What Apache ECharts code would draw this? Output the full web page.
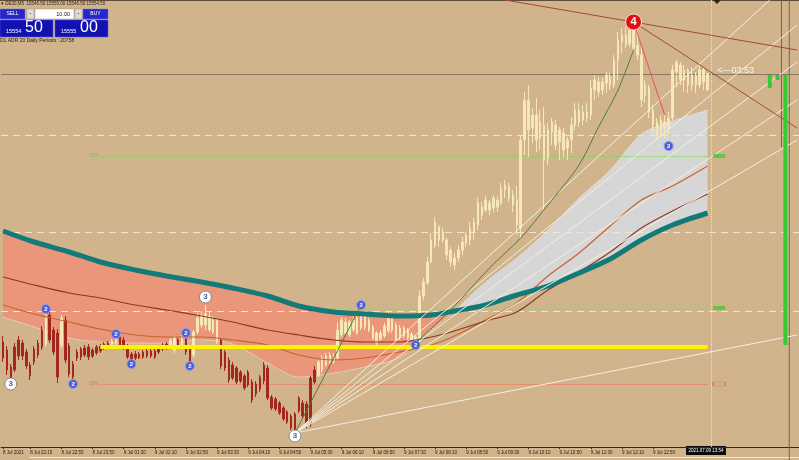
<!DOCTYPE html>
<html>
<head>
<meta charset="utf-8">
<script src="https://cdn.jsdelivr.net/npm/echarts/dist/echarts.min.js"></script>
<style>
html, body { margin: 0; padding: 0; background: #d2b48c; }
#chart { width: 799px; height: 460px; }
</style>
</head>
<body>
<div id="chart"></div>
<script>
// DE30 M5, 8-9 Jul 2021 -- one bar per category, [open, close, low, high]
const candles = [
  [15429,15421,15419,15432],[15425,15415,15412.5,15427],[15416.5,15411,15409.5,15418],[15426.5,15415,15414,15428.5],
  [15430,15422,15420,15432],[15428.5,15422,15420,15430],[15424,15417,15415.5,15425.5],[15417.5,15412,15410,15419],
  [15419,15425.5,15417.5,15427],[15428.5,15422.5,15421,15430],[15435,15426.5,15425,15437],[15428,15442,15426.5,15443.5],
  [15442.5,15430,15428.5,15444.5],[15435,15424,15422.5,15436.5],[15433.5,15411.5,15408.5,15435.5],[15427.5,15441,15426,15442.5],
  [15440,15420,15418.5,15442],[15427,15413,15411.5,15428.5],[15418,15411.5,15410,15419.5],[15424,15421,15419.5,15425.5],
  [15425.5,15421.5,15420,15426.5],[15422.5,15426,15421.5,15427.5],[15426.5,15421.5,15420,15428],[15425,15422,15421,15426],
  [15423.5,15426.5,15422.5,15427.5],[15424.5,15427,15423.5,15428],[15426,15428,15425,15429],[15427,15428.5,15426,15429.5],
  [15428,15429.5,15427.5,15430.5],[15428.5,15431.5,15427.5,15432],[15431.5,15427.5,15426.5,15432.5],[15430,15426,15425,15431.5],
  [15427,15421.5,15420.5,15428],[15423,15420,15419.5,15424],[15423,15421,15420,15424.5],[15421,15423,15420.5,15424],
  [15424,15421.5,15420.5,15425],[15422,15424.5,15421,15425.5],[15424.5,15422,15421,15425.5],[15421.5,15424.5,15420.5,15425.5],
  [15424,15426.5,15423,15427.5],[15425.5,15427.5,15424.5,15428.5],[15426,15428,15425,15429],[15427,15430,15426,15431],
  [15425,15431,15423.5,15432],[15430,15427,15426,15431],[15427,15431,15426,15432.5],[15430.5,15424,15422.5,15431],
  [15426,15419,15418.5,15427],[15422.5,15434,15421,15435],[15434,15441,15433,15443.5],[15437.5,15442.5,15436,15444.5],
  [15437.5,15443,15435,15447.5],[15435,15442,15434,15444],[15434,15440,15433,15442],[15440,15429,15428,15441],
  [15430,15417,15415.5,15431],[15424,15416,15414.5,15425],[15420,15410,15408.5,15421.5],[15417.5,15411,15410,15419],
  [15416,15409,15408,15417],[15414,15409.5,15408.5,15415],[15412,15406,15405,15413],[15414,15407.5,15406.5,15415],
  [15409,15400,15398.5,15410.5],[15408,15403,15401.5,15409.5],[15411.5,15405.5,15404,15412.5],[15417.5,15409.5,15408,15419],
  [15416,15401,15400,15417.5],[15401.5,15396,15395,15402.5],[15400.5,15395.5,15394.5,15401.5],[15398.5,15393.5,15392.5,15399.5],
  [15396,15390.5,15389.5,15397],[15394,15389,15388,15395],[15392,15386,15385,15393],[15393,15385,15383.5,15394],
  [15401,15394.5,15393.5,15402],[15398.5,15392,15391,15400],[15398,15387.5,15386,15399.5],[15411,15388,15386.5,15412],
  [15415,15409,15408,15417],[15412.5,15419,15411.5,15420],[15415,15421,15413.5,15422.5],[15417.5,15422,15416.5,15423.5],
  [15419,15422.5,15418,15424],[15419,15421.5,15418,15423.5],[15421,15435,15420,15439],[15432.5,15440,15431.5,15441.5],
  [15433.5,15439,15432.5,15441],[15439,15432.5,15431.5,15440],[15435,15440,15434,15441.5],[15433.5,15441,15432.5,15442],
  [15436,15443,15435,15444.5],[15442,15436.5,15435,15443],[15440,15435,15434,15441],[15436.5,15431,15430,15437.5],
  [15433.5,15428.5,15427.5,15434.5],[15430.5,15433.5,15429.5,15435],[15432,15437,15431,15438.5],[15434.5,15443,15433.5,15444.5],
  [15442,15435,15433.5,15443.5],[15437.5,15430,15428.5,15439],[15431,15436,15430,15437.5],[15436,15432,15431,15437],
  [15435,15431,15430,15436],[15433,15429.5,15428.5,15434],[15431.5,15429,15428,15432.5],[15430,15452,15428.5,15455],
  [15452,15459,15450,15461],[15458.5,15469,15457.5,15471.5],[15469,15480,15468.5,15483.5],[15477.5,15489,15476,15491.5],
  [15486.5,15480,15476.5,15487.5],[15484,15480,15478.5,15486],[15480,15472.5,15470,15481],[15475,15469,15466.5,15476.5],
  [15471,15467.5,15465,15473.5],[15471,15475,15469,15477.5],[15475,15479,15472.5,15481.5],[15478.5,15482.5,15476.5,15484],
  [15480,15486,15477.5,15489],[15484,15489,15480,15491],[15487.5,15498.5,15485,15501.5],[15496.5,15492.5,15490,15499],
  [15495,15500,15494,15502],[15498.5,15495,15492.5,15500],[15496,15501,15494,15502.5],[15500,15496.5,15494,15502],
  [15498.5,15506,15497.5,15508.5],[15505,15507.5,15501,15510],[15507,15501,15499,15508.5],[15502.5,15497.5,15494,15505],
  [15500,15487.5,15482.5,15507],[15486,15530,15481,15532.5],[15530,15550,15522.5,15554],[15550,15535,15521.5,15557.5],
  [15536,15542.5,15528.5,15546],[15542.5,15530,15524,15551],[15531,15539,15525,15545],[15537.5,15520,15494,15546.5],
  [15521,15535,15517.5,15538.5],[15534,15539,15527.5,15541],[15537.5,15527.5,15525,15540],[15529,15535,15520,15536.5],
  [15533.5,15525,15521,15536],[15526,15530,15520,15531.5],[15530,15537.5,15523.5,15541.5],[15537.5,15545,15535,15548.5],
  [15545,15539,15536.5,15548.5],[15540,15544,15537.5,15547.5],[15544,15541,15539,15548.5],[15542.5,15556,15540,15560],
  [15555,15560,15550,15562.5],[15559,15554,15551.5,15561.5],[15555,15559,15552.5,15561],[15558.5,15562.5,15553.5,15564],
  [15561.5,15557.5,15555,15563.5],[15557.5,15570,15556,15572.5],[15570,15580,15560,15584],[15579,15582.5,15573.5,15586],
  [15582.5,15577.5,15576,15586.5],[15578,15585,15576.5,15587],[15585,15576,15575,15587.5],[15577.5,15572.5,15570,15585],
  [15572.5,15550,15546.5,15576.5],[15552.5,15557.5,15548.5,15560],[15556,15544,15541,15557.5],[15545,15537.5,15532.5,15547.5],
  [15539,15532.5,15530,15541],[15535,15540,15531.5,15542.5],[15539,15536,15531,15543.5],[15536,15541,15532.5,15544],
  [15541,15565,15540,15567.5],[15564,15569,15556.5,15570],[15567.5,15560,15557.5,15569],[15560,15565,15554,15567.5],
  [15565,15557.5,15553.5,15566],[15557.5,15562.5,15555,15566.5],[15562.5,15557.5,15553.5,15564],[15557.5,15565,15556,15568.5],
  [15565,15559,15555,15566.5],[15555,15563,15555,15563.5]
];

// time axis
const tickIndex = [0,7,15,23,31,39,47,55,63,71,79,87,95,103,111,119,127,135,143,151,159,167];
const tickLabels = ['8 Jul 2021','8 Jul 22:15','8 Jul 22:55','8 Jul 23:50','9 Jul 01:30','9 Jul 02:10','9 Jul 02:50',
  '9 Jul 03:30','9 Jul 04:10','9 Jul 04:50','9 Jul 05:30','9 Jul 06:10','9 Jul 06:50','9 Jul 07:30','9 Jul 08:10',
  '9 Jul 08:50','9 Jul 09:30','9 Jul 10:10','9 Jul 10:50','9 Jul 11:30','9 Jul 12:10','9 Jul 12:50'];

// indicator lines, read at these bars
const maIndex  = [0,8,17,25,34,42,51,59,68,76,85,93,102,110,116,124,132,140,148,156,164,172,181];
const tealMA   = [15484.5,15479,15474,15469,15465,15462,15459,15456,15452,15447,15444,15443,15442,15442.5,15444.5,15447.5,15452.5,15457,15463.5,15470.5,15480,15487.5,15493.5];
const bandEdge = [15441.5,15436.5,15431,15429,15428.5,15428.5,15430,15428,15418.5,15411.5,15413.5,15416.5,15421.5,15435,15444.5,15459,15471,15485,15501,15515,15533,15539.5,15545];
const brownMA  = [15461.5,15457.5,15453.5,15451,15447.5,15445,15442,15439,15435,15432.5,15430,15429,15429,15431.5,15434.5,15439.5,15444,15455,15464,15474,15486,15494.5,15503];
const orangeMA = [15447.5,15443,15439,15435.5,15432.5,15431.5,15431.5,15430,15427.5,15422.5,15420,15421,15424,15427.5,15432,15440,15448.5,15462,15473.5,15487,15500,15507,15517];

// wave markers [bar, price]
const wave2 = [[11,15445.5],[18,15408],[29,15433],[33,15418],[47,15433.5],[48,15417],[92,15447.5],[106,15427.5],[171,15527]];
const wave3 = [[2,15408],[52,15451.5],[75,15382]];
const wave4 = [[162,15589]];

// trend lines [[bar, price], [bar, price], ...]
const brownLines = [[[129,15600],[204,15575]], [[162,15589],[204,15536]]];
const redLines = [[[162,15589],[170,15542.5]]];
const greenLines = [
  [[75,15383.5],[92,15447.5]],
  [[106,15428.5],[115,15445],[125,15466],[133,15481],[140,15497.5],[148,15517.5],[153,15536.5],[158,15555],[162,15575]]
];
const fanLines = [
  [[75,15383.5],[204,15432.5]], [[75,15383.5],[197,15600]], [[75,15383.5],[204,15587.5]],
  [[75,15383.5],[204,15569]], [[75,15383.5],[204,15550]], [[75,15383.5],[204,15530]]
];

// horizontal levels
const bidPrice = 15563;
const dashLevels = [15532.5, 15484, 15444.5];
const pivotLevel = 15426.5;
const level50 = 15522;
const level10 = 15408;
const greenLevel = 15446;

// right side bars [bar, top, bottom]
const spreadBars = [[197,15562.5,15556],[199,15562.5,15560],[201,15562.5,15427.5]];
const sepLines = [[200,15600,15526.5],[202,15600,15376.5]];

const CREAM = '#f6e7b6';
const RED = '#a3281c';
const FONT = 'Liberation Sans';
const lastBar = candles.length - 1;

const chart = echarts.init(document.getElementById('chart'));
const cats = [];
for (let i = 0; i < 205; i++) cats.push(String(i));
const labelAt = {};
tickIndex.forEach((k, j) => { labelAt[k] = tickLabels[j]; });

// colour of a bar: cream above the lower edge of the cloud, red below
function cloudFloor(i) {
  let j = 0;
  while (j < maIndex.length - 2 && maIndex[j + 1] < i) j++;
  const t = (i - maIndex[j]) / (maIndex[j + 1] - maIndex[j]);
  const a = Math.min(tealMA[j], bandEdge[j]);
  const b = Math.min(tealMA[j + 1], bandEdge[j + 1]);
  return a + (b - a) * t;
}
const candleData = candles.map((d, i) => {
  const col = d[1] >= cloudFloor(i) ? CREAM : RED;
  return { value: d, itemStyle: { color: col, color0: col, borderColor: col, borderColor0: col } };
});

const cross = maIndex.indexOf(116);
const pts = (vals) => maIndex.map((k, j) => [k, vals[j]]);
const salmonBase = [], salmonDiff = [], greyBase = [], greyDiff = [];
maIndex.forEach((k, j) => {
  if (j <= cross) {
    salmonBase.push([k, bandEdge[j]]);
    salmonDiff.push([k, tealMA[j] - bandEdge[j]]);
  }
  if (j >= cross) {
    greyBase.push([k, tealMA[j]]);
    greyDiff.push([k, bandEdge[j] - tealMA[j]]);
  }
});

const hidden = { symbol: 'none', silent: true, lineStyle: { opacity: 0 }, smooth: 0.3 };
function trend(lines, color, width, z) {
  return lines.map(l => ({
    type: 'line', data: l, symbol: 'none', silent: true, smooth: l.length > 2 ? 0.3 : false,
    lineStyle: { color: color, width: width }, z: z
  }));
}
function markers(data, size, fill, stroke, text, textColor, fs) {
  return {
    type: 'scatter', data: data, symbolSize: size, z: 20, silent: true,
    itemStyle: { color: fill, borderColor: stroke, borderWidth: 1, opacity: 1 },
    label: { show: true, position: 'inside', formatter: text, color: textColor, fontSize: fs,
      fontWeight: 'bold', fontFamily: FONT }
  };
}

const option = {
  animation: false,
  backgroundColor: '#d2b48c',
  grid: { left: 0, right: 0, top: 0, bottom: 13 },
  xAxis: {
    type: 'category', data: cats, boundaryGap: true,
    axisLine: { lineStyle: { color: '#3a2814', width: 1 } },
    axisTick: { show: true, alignWithLabel: true, length: 2, interval: (i) => labelAt[i] != null,
      lineStyle: { color: '#3a2814' } },
    axisLabel: { interval: (i) => labelAt[i] != null, formatter: (v, i) => labelAt[i] || '',
      align: 'left', margin: 3, fontSize: 4.5, color: '#24180a', fontFamily: FONT },
    splitLine: { show: false }
  },
  yAxis: { type: 'value', min: 15376.5, max: 15600, show: false, splitLine: { show: false } },
  series: [
    Object.assign({ type: 'line', data: salmonBase, stack: 'salmon', z: 1 }, hidden),
    Object.assign({ type: 'line', data: salmonDiff, stack: 'salmon', z: 1,
      areaStyle: { color: '#e9967a', opacity: 1 } }, hidden),
    Object.assign({ type: 'line', data: greyBase, stack: 'grey', z: 1 }, hidden),
    Object.assign({ type: 'line', data: greyDiff, stack: 'grey', z: 1,
      areaStyle: { color: '#d6d6d6', opacity: 1 } }, hidden),
    {
      type: 'line', data: pts(bandEdge), symbol: 'none', smooth: 0.3, silent: true, z: 2,
      lineStyle: { color: '#f3ead8', width: 1, type: 'dotted' },
      markLine: {
        silent: true, symbol: ['none', 'none'], animation: false,
        data: [
          { yAxis: bidPrice, lineStyle: { color: '#857966', width: 1, type: 'solid' }, label: { show: false } },
          ...dashLevels.map(v => ({ yAxis: v, lineStyle: { color: '#f1e6d3', width: 1, type: [7, 5] }, label: { show: false } })),
          { xAxis: 182, lineStyle: { color: '#efe4d0', width: 1, type: 'dotted' }, label: { show: false } },
          [{ coord: [25, level50], lineStyle: { color: '#7ccf5a', width: 1, type: 'dotted' },
             label: { show: true, position: 'start', formatter: '50%', fontSize: 4.5, color: '#6fc24f', distance: 2 } },
           { coord: [lastBar, level50] }],
          [{ coord: [25, level10], lineStyle: { color: '#e27256', width: 1, type: 'dotted' },
             label: { show: true, position: 'start', formatter: '10%', fontSize: 4.5, color: '#e27256', distance: 2 } },
           { coord: [lastBar, level10] }],
          [{ coord: [78, greenLevel], lineStyle: { color: '#8fd46a', width: 1, type: 'dotted' }, label: { show: false } },
           { coord: [lastBar, greenLevel] }]
        ]
      }
    },
    {
      type: 'candlestick', data: candleData, barWidth: 2, z: 5, silent: true,
      itemStyle: { borderWidth: 1 }
    },
    {
      type: 'line', data: pts(orangeMA), symbol: 'none', smooth: 0.3, silent: true, z: 6,
      lineStyle: { color: '#c9622c', width: 1.2 }
    },
    {
      type: 'line', data: pts(brownMA), symbol: 'none', smooth: 0.3, silent: true, z: 6,
      lineStyle: { color: '#8a3a22', width: 1.2 }
    },
    {
      type: 'line', data: pts(tealMA), symbol: 'none', smooth: 0.3, silent: true, z: 7,
      lineStyle: { color: '#127a77', width: 5 }
    },
    {
      type: 'line', data: [[25, pivotLevel], [lastBar, pivotLevel]], symbol: 'none', silent: true, z: 8,
      lineStyle: { color: '#fff200', width: 4 }
    },
    ...trend(fanLines, '#f5efe2', 1, 9),
    ...trend(greenLines, '#4f7b3e', 1, 9),
    ...trend(brownLines, '#a04a34', 1, 9),
    ...trend(redLines, '#e2545a', 1, 9),
    {
      type: 'custom', data: spreadBars, encode: { x: 0, y: [1, 2] }, z: 10, silent: true,
      renderItem: (params, api) => {
        const a = api.coord([api.value(0), api.value(1)]);
        const b = api.coord([api.value(0), api.value(2)]);
        return { type: 'rect', shape: { x: a[0] - 2, y: a[1], width: 4, height: b[1] - a[1] }, style: { fill: '#33cc33' } };
      }
    },
    {
      type: 'custom', data: sepLines, encode: { x: 0, y: [1, 2] }, z: 9, silent: true, clip: false,
      renderItem: (params, api) => {
        const a = api.coord([api.value(0), api.value(1)]);
        const b = api.coord([api.value(0), api.value(2)]);
        return { type: 'line', shape: { x1: a[0], y1: a[1], x2: b[0], y2: b[1] + (params.dataIndex ? 13 : 0) },
          style: { stroke: '#6f6558', lineWidth: 1 } };
      }
    },
    {
      type: 'scatter', data: [[184, level50], [184, greenLevel]], symbol: 'rect', symbolSize: [12, 4], z: 10, silent: true,
      itemStyle: { color: '#47c83a' }
    },
    {
      type: 'scatter', data: [[184, level10]], symbol: 'rect', symbolSize: [12, 4], z: 10, silent: true,
      itemStyle: { color: 'rgba(0,0,0,0)', borderColor: '#e27256', borderWidth: 1 }
    },
    markers(wave2, 9, '#4a5fd6', '#8e9cf0', '2', '#ffffff', 6),
    markers(wave3, 12, '#ffffff', '#8a8a8a', '3', '#4d5f9a', 8),
    markers(wave4, 16, '#e01010', '#ffdede', '4', '#ffffff', 11)
  ],
  graphic: [
    { type: 'rect', shape: { x: 0, y: 0, width: 799, height: 1 }, style: { fill: '#5d4c3a' }, silent: true },
    { type: 'polygon', shape: { points: [[713, 0], [721, 0], [717, 4]] }, style: { fill: '#2e2418' }, silent: true },
    { type: 'text', x: 1, y: 1, style: { text: '\u25be DE30,M5  15546.50 15555.00 15546.50 15554.50', font: '4.5px ' + FONT, fill: '#2a1d0e' } },
    { type: 'rect', shape: { x: 0, y: 9, width: 25, height: 10 }, style: { fill: '#2626c9', stroke: '#7474ee', lineWidth: 0.5 } },
    { type: 'text', x: 12.5, y: 14, style: { text: 'SELL', font: '5px ' + FONT, fill: '#ffffff', align: 'center', verticalAlign: 'middle' } },
    { type: 'rect', shape: { x: 27, y: 9, width: 7, height: 10 }, style: { fill: '#dcdcdc', stroke: '#9a9a9a', lineWidth: 0.5 } },
    { type: 'text', x: 30.5, y: 14, style: { text: '\u25aa', font: '4px ' + FONT, fill: '#333', align: 'center', verticalAlign: 'middle' } },
    { type: 'rect', shape: { x: 35, y: 9, width: 39, height: 10 }, style: { fill: '#ffffff', stroke: '#9a9a9a', lineWidth: 0.5 } },
    { type: 'text', x: 70, y: 14, style: { text: '10.00', font: '5.5px ' + FONT, fill: '#1a1a1a', align: 'right', verticalAlign: 'middle' } },
    { type: 'rect', shape: { x: 75, y: 9, width: 7, height: 10 }, style: { fill: '#dcdcdc', stroke: '#9a9a9a', lineWidth: 0.5 } },
    { type: 'text', x: 78.5, y: 14, style: { text: '\u25aa', font: '4px ' + FONT, fill: '#333', align: 'center', verticalAlign: 'middle' } },
    { type: 'rect', shape: { x: 83, y: 9, width: 25, height: 10 }, style: { fill: '#2626c9', stroke: '#7474ee', lineWidth: 0.5 } },
    { type: 'text', x: 95.5, y: 14, style: { text: 'BUY', font: '5px ' + FONT, fill: '#ffffff', align: 'center', verticalAlign: 'middle' } },
    { type: 'rect', shape: { x: 0, y: 20, width: 53, height: 17 }, style: { fill: '#1212b0', stroke: '#5a5ae0', lineWidth: 0.5 } },
    { type: 'rect', shape: { x: 55, y: 20, width: 53, height: 17 }, style: { fill: '#1212b0', stroke: '#5a5ae0', lineWidth: 0.5 } },
    { type: 'text', x: 6, y: 34, style: { text: '15554', font: '5.5px ' + FONT, fill: '#ffffff', verticalAlign: 'bottom' } },
    { type: 'text', x: 25, y: 35.5, style: { text: '50', font: '16px ' + FONT, fill: '#ffffff', verticalAlign: 'bottom' } },
    { type: 'text', x: 61, y: 34, style: { text: '15555', font: '5.5px ' + FONT, fill: '#ffffff', verticalAlign: 'bottom' } },
    { type: 'text', x: 80, y: 35.5, style: { text: '00', font: '16px ' + FONT, fill: '#ffffff', verticalAlign: 'bottom' } },
    { type: 'text', x: 0, y: 38, style: { text: 'D1 ADR 20 Daily Periods : 20758', font: '5px ' + FONT, fill: '#2a1d0e' } },
    { type: 'rect', shape: { x: 686, y: 446, width: 40, height: 9 }, style: { fill: '#0a0a0a' } },
    { type: 'text', x: 706, y: 450.5, style: { text: '2021.07.09 13:54', font: '4.5px ' + FONT, fill: '#ffffff', align: 'center', verticalAlign: 'middle' } },
    { type: 'rect', shape: { x: 30, y: 457, width: 769, height: 1 }, style: { fill: '#ececec' }, silent: true }
  ]
};
chart.setOption(option);

// bar timer next to the bid line, placed through the chart's own scales
const bidPt = chart.convertToPixel({ gridIndex: 0 }, [183, bidPrice]);
chart.setOption({
  graphic: option.graphic.concat([{
    type: 'text', x: bidPt[0] + 2, y: bidPt[1] - 3, silent: true,
    style: { text: '<\u201403:53', font: '9px ' + FONT, fill: '#f7f4ec', verticalAlign: 'middle' }
  }])
});
</script>
</body>
</html>
